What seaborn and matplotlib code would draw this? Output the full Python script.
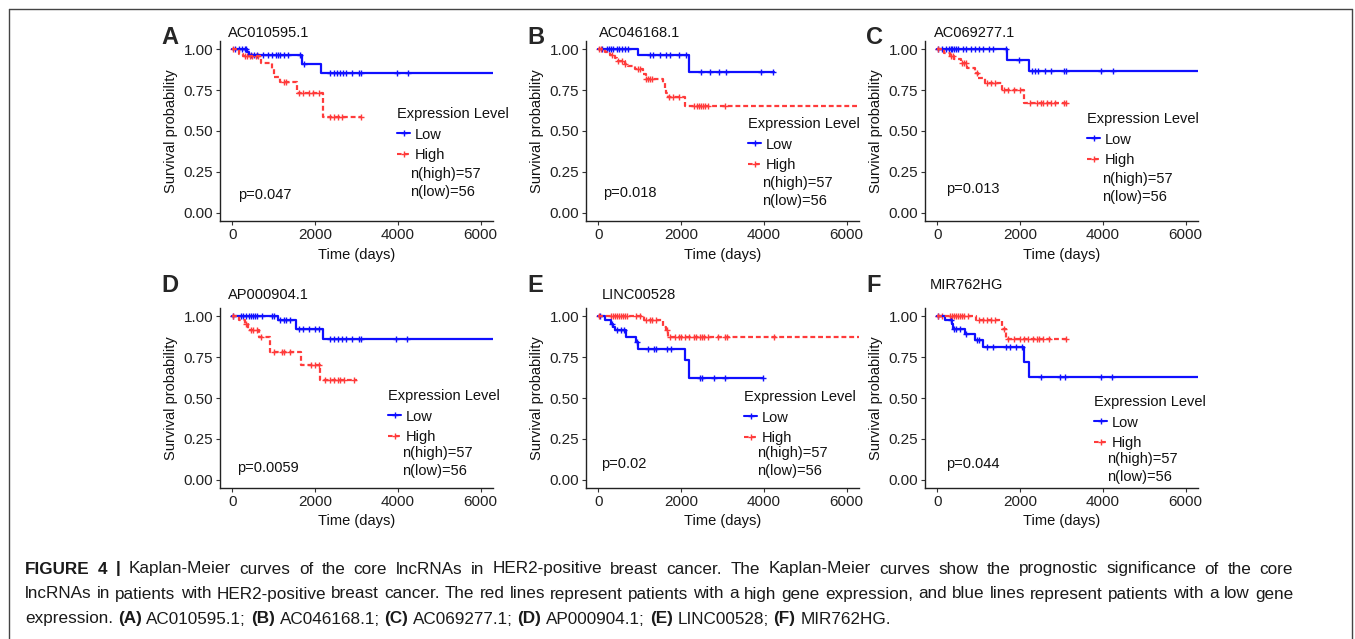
import numpy as np
import pandas as pd
import matplotlib
matplotlib.use("Agg")
import matplotlib.pyplot as plt
import seaborn as sns
from matplotlib.lines import Line2D

# ---------------- data ----------------
genes = ["AC010595.1", "AC046168.1", "AC069277.1", "AP000904.1", "LINC00528", "MIR762HG"]
panel_letters = ["A", "B", "C", "D", "E", "F"]
p_values = ["0.047", "0.018", "0.013", "0.0059", "0.02", "0.044"]
n_high = 57
n_low = 56
group_labels = ["Low", "High"]
x_ticks = [0, 2000, 4000, 6000]
y_ticks = [0.00, 0.25, 0.50, 0.75, 1.00]

# Kaplan-Meier steps: event times (days), survival after each event, last follow-up, censor times
A_low_t = [350, 400, 1690, 2140]
A_low_s = [0.982, 0.964, 0.910, 0.857]
A_low_end = 6300
A_low_c = [60, 150, 230, 300, 330, 450, 520, 600, 750, 850, 950, 1050, 1100, 1150, 1250, 1355, 1640, 1720,
           2360, 2450, 2530, 2600, 2680, 2750, 2900, 3050, 3100, 3975, 4240]
A_high_t = [170, 260, 700, 950, 1000, 1150, 1560, 2200]
A_high_s = [0.973, 0.960, 0.914, 0.878, 0.833, 0.800, 0.732, 0.587]
A_high_end = 3145
A_high_c = [20, 300, 350, 420, 480, 560, 620, 1250, 1300, 1620, 1700, 1850, 1960, 2100,
            2350, 2450, 2550, 2650, 3100]

B_low_t = [960, 2200]
B_low_s = [0.965, 0.858]
B_low_end = 4240
B_low_c = [80, 200, 250, 300, 350, 450, 500, 560, 640, 720, 1240, 1320, 1480, 1640, 1720, 1960, 2120,
           2480, 2700, 2920, 3080, 3940, 4220]
B_high_t = [160, 280, 400, 440, 640, 720, 880, 1080, 1140, 1560, 1600, 1640, 1680, 2100]
B_high_s = [0.982, 0.965, 0.947, 0.930, 0.912, 0.895, 0.877, 0.850, 0.815, 0.793, 0.762, 0.735, 0.707, 0.650]
B_high_end = 6300
B_high_c = [10, 60, 330, 480, 560, 650, 950, 1000, 1150, 1200, 1250, 1300, 1700, 1800, 1950,
            2300, 2380, 2420, 2470, 2520, 2580, 2650, 3050]

C_low_t = [1677, 2226]
C_low_s = [0.935, 0.864]
C_low_end = 6300
C_low_c = [20, 100, 200, 280, 320, 360, 400, 450, 500, 620, 700, 800, 900, 1000, 1100, 1250, 1350, 1650,
           1970, 2280, 2350, 2420, 2600, 2750, 3050, 3100, 3960, 4250]
C_high_t = [150, 310, 390, 560, 720, 910, 990, 1150, 1560, 2100]
C_high_s = [0.976, 0.960, 0.937, 0.918, 0.885, 0.855, 0.825, 0.793, 0.752, 0.672]
C_high_end = 3130
C_high_c = [20, 330, 380, 600, 650, 700, 950, 1200, 1300, 1400, 1600, 1700, 1850, 2000,
            2250, 2400, 2500, 2550, 2650, 2750, 2850, 3050, 3100]

D_low_t = [1104, 1544, 2184]
D_low_s = [0.974, 0.923, 0.862]
D_low_end = 6300
D_low_c = [20, 200, 260, 330, 400, 450, 500, 550, 600, 720, 950, 1000, 1150, 1250, 1300, 1400,
           1600, 1700, 1850, 2000, 2100, 2350, 2450, 2550, 2650, 2750, 2900, 3050, 3100, 3950, 4220]
D_high_t = [150, 300, 370, 650, 920, 1660, 2110]
D_high_s = [0.975, 0.953, 0.915, 0.870, 0.780, 0.700, 0.608]
D_high_end = 3024
D_high_c = [20, 330, 450, 500, 600, 700, 1000, 1200, 1250, 1400, 1900, 2000, 2100,
            2250, 2350, 2450, 2550, 2600, 2700, 2950]

E_low_t = [170, 300, 360, 400, 670, 910, 950, 2100, 2200]
E_low_s = [0.974, 0.955, 0.935, 0.915, 0.875, 0.840, 0.800, 0.730, 0.620]
E_low_end = 3976
E_low_c = [30, 330, 450, 550, 620, 930, 1200, 1350, 1400, 1650, 1750, 2450, 2500, 2800, 3060, 3976]
E_high_t = [1113, 1556, 1637, 1677]
E_high_s = [0.974, 0.933, 0.913, 0.872]
E_high_end = 6300
E_high_c = [20, 300, 350, 400, 450, 500, 550, 600, 650, 700, 900, 1000, 1150, 1250, 1300, 1400, 1650,
            1720, 1850, 1950, 2000, 2100, 2200, 2300, 2350, 2450, 2500, 2550, 2650, 2900, 3050, 3100, 4250]

F_low_t = [185, 347, 387, 670, 911, 1113, 2105, 2226]
F_low_s = [0.974, 0.953, 0.923, 0.892, 0.852, 0.811, 0.720, 0.629]
F_low_end = 6300
F_low_c = [20, 330, 400, 450, 550, 700, 950, 1000, 1200, 1350, 1650, 1750, 1900, 2050,
           2500, 2960, 3080, 3950, 4220]
F_high_t = [935, 1556, 1653]
F_high_s = [0.974, 0.923, 0.862]
F_high_end = 3130
F_high_c = [20, 120, 300, 350, 400, 450, 500, 550, 600, 650, 750, 1000, 1100, 1200, 1300, 1400, 1600,
            1700, 1850, 2000, 2100, 2200, 2300, 2400, 2450, 2550, 2700, 3100]

caption_parts = [
    [("FIGURE 4 |", True), ("Kaplan-Meier curves of the core lncRNAs in HER2-positive breast cancer. The Kaplan-Meier curves show the prognostic significance of the core", False)],
    [("lncRNAs in patients with HER2-positive breast cancer. The red lines represent patients with a high gene expression, and blue lines represent patients with a low gene", False)],
    [("expression.", False), ("(A)", True), ("AC010595.1;", False), ("(B)", True), ("AC046168.1;", False),
     ("(C)", True), ("AC069277.1;", False), ("(D)", True), ("AP000904.1;", False), ("(E)", True),
     ("LINC00528;", False), ("(F)", True), ("MIR762HG.", False)],
]

curves = [
    (A_low_t, A_low_s, A_low_end, A_low_c, A_high_t, A_high_s, A_high_end, A_high_c),
    (B_low_t, B_low_s, B_low_end, B_low_c, B_high_t, B_high_s, B_high_end, B_high_c),
    (C_low_t, C_low_s, C_low_end, C_low_c, C_high_t, C_high_s, C_high_end, C_high_c),
    (D_low_t, D_low_s, D_low_end, D_low_c, D_high_t, D_high_s, D_high_end, D_high_c),
    (E_low_t, E_low_s, E_low_end, E_low_c, E_high_t, E_high_s, E_high_end, E_high_c),
    (F_low_t, F_low_s, F_low_end, F_low_c, F_high_t, F_high_s, F_high_end, F_high_c),
]

# ---------------- layout (pixels) ----------------
W, H = 1355, 639
axes_left = [220, 586, 925, 220, 586, 925]
axes_top = [41, 41, 41, 308, 308, 308]
axes_w, axes_h = 273, 180
letter_pos = [(161, 37), (527, 37), (866, 37), (161, 285), (527, 285), (866, 285)]
title_pos = [(228, 33), (599, 33), (934, 33), (228, 295), (602, 295), (930, 285)]
legend_pos = [(397, 107), (748, 117), (1087, 112), (388, 389), (744, 390), (1094, 395)]
n_pos = [(410, 174), (762, 183), (1102, 179), (402, 453), (757, 453), (1107, 459)]
p_pos = [(238, 195), (603, 193), (946, 189), (237, 468), (601, 464), (946, 464)]

BLUE = "#1010FF"
RED = "#FF3B3B"
FS = 10.5
TICK_FS = 11

sns.set_theme(style="ticks")
plt.rcParams['font.family'] = ['Liberation Sans', 'DejaVu Sans']
plt.rcParams['axes.linewidth'] = 1.0

fig = plt.figure(figsize=(W / 100, H / 100), dpi=100)


def fx(x):
    return x / W


def fy(y):
    return 1 - y / H


def step_frame(times, surv, end, group):
    t = [0] + list(times) + [end]
    s = [1.0] + list(surv) + [surv[-1]]
    return pd.DataFrame({"time": t, "surv": s, "group": group})


def censor_frame(times, surv, cens, group):
    t_arr = np.array(times)
    s_arr = np.array([1.0] + list(surv))
    idx = np.searchsorted(t_arr, np.array(cens), side="right")
    return pd.DataFrame({"time": cens, "surv": s_arr[idx], "group": group})


for i in range(6):
    lt, ls, lend, lc, ht, hs, hend, hc = curves[i]
    ax = fig.add_axes([fx(axes_left[i]), fy(axes_top[i] + axes_h), fx(axes_w), axes_h / H])
    low = step_frame(lt, ls, lend, "Low")
    high = step_frame(ht, hs, hend, "High")
    sns.lineplot(data=low, x="time", y="surv", ax=ax, color=BLUE, lw=1.6,
                 drawstyle="steps-post", estimator=None, sort=False)
    sns.lineplot(data=high, x="time", y="surv", ax=ax, color=RED, lw=1.6, linestyle=(0, (2.2, 1.3)),
                 drawstyle="steps-post", estimator=None, sort=False)
    sns.scatterplot(data=censor_frame(lt, ls, lc, "Low"), x="time", y="surv", ax=ax, marker="+",
                    color=BLUE, s=24, linewidth=1.0)
    sns.scatterplot(data=censor_frame(ht, hs, hc, "High"), x="time", y="surv", ax=ax, marker="+",
                    color=RED, s=24, linewidth=1.0)
    ax.set_xlim(-300, 6300)
    ax.set_ylim(-0.05, 1.05)
    ax.set_xticks(x_ticks)
    ax.set_xticklabels([str(v) for v in x_ticks])
    ax.set_yticks(y_ticks)
    ax.set_yticklabels([f"{v:.2f}" for v in y_ticks])
    ax.tick_params(axis="both", length=3, width=0.8, color="#333333", labelsize=TICK_FS,
                   labelcolor="#222222", pad=2)
    sns.despine(ax=ax)
    for sp in ["left", "bottom"]:
        ax.spines[sp].set_color("#222222")
    ax.set_xlabel("Time (days)", fontsize=FS, labelpad=4, color="#111111")
    ax.set_ylabel("Survival probability", fontsize=FS, labelpad=4, color="#111111")
    ax.grid(False)

    handles = [Line2D([], [], color=BLUE, lw=1.5, marker="+", markersize=5),
               Line2D([], [], color=RED, lw=1.5, linestyle=(0, (2.2, 1.3)), marker="+", markersize=5)]
    lx, ly = legend_pos[i]
    leg = ax.legend(handles, group_labels, title="Expression Level", loc="upper left",
                    bbox_to_anchor=(fx(lx), fy(ly)), bbox_transform=fig.transFigure,
                    frameon=False, fontsize=FS, title_fontsize=FS, handlelength=0.9,
                    handletextpad=0.3, labelspacing=0.45, borderpad=0, borderaxespad=0,
                    alignment="left")
    for t in leg.get_texts():
        t.set_color("#111111")
    leg.get_title().set_color("#111111")
    nx, ny = n_pos[i]
    fig.text(fx(nx), fy(ny), f"n(high)={n_high}", fontsize=FS, va="center", ha="left", color="#111111")
    fig.text(fx(nx), fy(ny + 18), f"n(low)={n_low}", fontsize=FS, va="center", ha="left", color="#111111")
    px_, py_ = p_pos[i]
    fig.text(fx(px_), fy(py_), f"p={p_values[i]}", fontsize=FS, va="center", ha="left", color="#111111")
    tx, ty = title_pos[i]
    fig.text(fx(tx), fy(ty), genes[i], fontsize=FS, va="center", ha="left", color="#111111")
    lx2, ly2 = letter_pos[i]
    fig.text(fx(lx2), fy(ly2), panel_letters[i], fontsize=17, fontweight="bold", va="center", ha="left")

# figure border
for xs, ys in [((9, 9), (9, 645)), ((9, 1352), (9, 9)), ((1352, 1352), (9, 645))]:
    fig.add_artist(Line2D([fx(xs[0]), fx(xs[1])], [fy(ys[0]), fy(ys[1])], color="#444444", lw=1.0,
                          transform=fig.transFigure))

# caption: justified lines 1-2, natural last line; word by word with bold runs
fig.canvas.draw()
renderer = fig.canvas.get_renderer()
CAP_FS = 12.3
CAP_X0, CAP_X1 = 25, 1293
line_y = [569, 594, 619]
justify = [True, True, False]
sp = fig.text(0, 0, "a a", fontsize=CAP_FS)
sp2 = fig.text(0, 0, "aa", fontsize=CAP_FS)
space_w = sp.get_window_extent(renderer=renderer).width - sp2.get_window_extent(renderer=renderer).width
sp.remove()
sp2.remove()
for parts, yy, just in zip(caption_parts, line_y, justify):
    words = []
    for txt, bold in parts:
        for w in txt.split(" "):
            words.append((w, bold))
    arts, widths = [], []
    for w, bold in words:
        t = fig.text(0, fy(yy), w, fontsize=CAP_FS, fontweight="bold" if bold else "normal",
                     va="center", ha="left", color="#1a1a1a")
        arts.append(t)
        widths.append(t.get_window_extent(renderer=renderer).width)
    if just:
        gap = (CAP_X1 - CAP_X0 - sum(widths)) / (len(words) - 1)
    else:
        gap = space_w
    x = CAP_X0
    for t, wdt in zip(arts, widths):
        t.set_x(fx(x))
        x += wdt + gap

fig.savefig("out.png", dpi=100)
